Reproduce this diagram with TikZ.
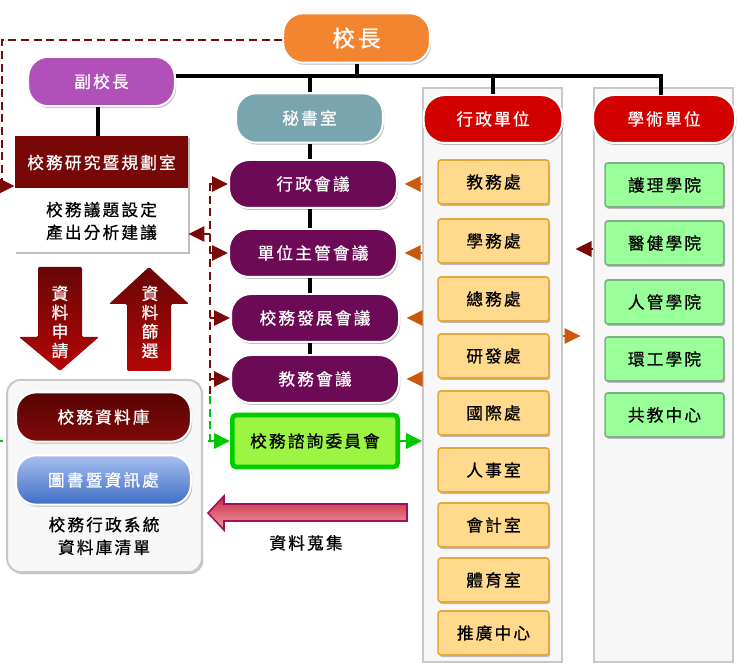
\documentclass[tikz,border=0pt]{standalone}
\usepackage{fontspec}
\setmainfont{Noto Sans CJK TC}[LetterSpace=13,FakeBold=0.7]
\usetikzlibrary{arrows.meta,positioning,shadows,calc}

\definecolor{bosscol}{HTML}{F38430}
\definecolor{vpcol}{HTML}{B050B8}
\definecolor{seccol}{HTML}{79A6AE}
\definecolor{unitred}{HTML}{D30000}
\definecolor{meetcol}{RGB}{108,10,86}
\definecolor{resred}{HTML}{780808}
\definecolor{feedred}{HTML}{7A0A0A}
\definecolor{feedorange}{HTML}{C8590E}
\definecolor{feedgreen}{HTML}{00C800}
\definecolor{admfill}{HTML}{FFD98C}
\definecolor{admline}{HTML}{E3A83E}
\definecolor{acafill}{HTML}{99FF99}
\definecolor{acaline}{HTML}{7FAF8A}
\definecolor{colfill}{HTML}{F7F7F7}
\definecolor{colline}{HTML}{C8C8C8}

\tikzset{
  softshadow/.style={drop shadow={shadow xshift=1pt,shadow yshift=-1.5pt,opacity=.25,fill=black}},
  txt/.style={font=\fontsize{12.5}{15}\selectfont},
  pill/.style={txt, rounded corners=15pt, draw=white, line width=1.5pt, text=white,
    minimum width=110pt, minimum height=37pt, softshadow},
  meeting/.style={pill, fill=meetcol, minimum width=126pt, minimum height=36pt},
  unithead/.style={pill, fill=unitred, minimum height=36pt, rounded corners=16pt},
  dbpill/.style={pill, minimum width=131pt, minimum height=37pt},
  admbox/.style={txt, draw=admline, fill=admfill, line width=1.2pt, rounded corners=2pt,
    minimum width=83pt, minimum height=33pt, softshadow},
  acabox/.style={admbox, draw=acaline, fill=acafill, minimum width=89pt},
  column/.style={draw=colline, fill=colfill, line width=1.5pt, inner sep=0pt},
  tree/.style={line width=3pt, black},
  feed/.style={line width=1.5pt, dash pattern=on 6pt off 3.5pt, feedred},
  tip/.style={-{Triangle[length=12pt,width=11.5pt]}},
  shortfeed/.style={line width=1.5pt, tip}
}

\begin{document}
\begin{tikzpicture}[x=0.75pt,y=-0.75pt]
  \useasboundingbox (0,0) rectangle (750,666);

  % unit columns
  \node[column, minimum width=104pt, minimum height=430.5pt] (admcol) at (492.5,375) {};
  \node[column, minimum width=104pt, minimum height=430.5pt] (acacol) at (663.5,375) {};

  % green feed from the left, runs behind the database group
  \coordinate (gleft) at (0,441);
  \coordinate (gbend) at (210,441);
  \draw[line width=1pt, feedgreen, dash pattern=on 2pt off 4pt] (gleft) -- (gbend);

  % database group
  \node[draw=colline, fill=colfill, line width=1.5pt, rounded corners=10pt,
        minimum width=146pt, minimum height=144pt, softshadow] (dbgroup) at (104.5,476) {};

  % top of the tree
  \node[pill, fill=bosscol, font=\fontsize{17}{20}\selectfont] (boss) at (356.5,38) {校長};
  \node[pill, fill=vpcol] (vp) at (101.5,81.5) {副校長};
  \node[pill, fill=seccol] (sec) at (309.5,118) {秘書室};
  \node[unithead, minimum width=104pt] (admhead) at (493,119) {行政單位};
  \node[unithead, minimum width=106.5pt] (acahead) at (664,119) {學術單位};

  % research office
  \node[fill=white, minimum width=130pt, minimum height=87pt, inner sep=0pt, softshadow] (res) at (101.5,194.5) {};
  \node[txt, fill=resred, text=white, minimum width=130pt, minimum height=39pt, anchor=north, inner sep=0pt] (reshead) at (res.north) {校務研究暨規劃室};
  \node[txt, align=center, font=\fontsize{12.5}{17}\selectfont] (restext) at (101.5,221) {校務議題設定\\產出分析建議};

  % meetings
  \node[meeting] (m1) at (313,184) {行政會議};
  \node[meeting] (m2) at (313,253) {單位主管會議};
  \node[meeting] (m3) at (315,318) {校務發展會議};
  \node[meeting] (m4) at (315,379) {教務會議};
  \node[txt, draw=green!80!black, fill={rgb,255:red,156;green,245;blue,66}, line width=3.5pt,
        rounded corners=3pt, minimum width=124pt, minimum height=39pt] (comm) at (315,441) {校務諮詢委員會};

  % administrative units
  \foreach \name/\y [count=\i] in {教務處/182,學務處/241,總務處/299,研發處/356,國際處/413,
                                   人事室/470,會計室/525,體育室/580,推廣中心/633}
    \node[admbox] (adm\i) at (493.5,\y) {\name};

  % academic units
  \foreach \name/\y [count=\i] in {護理學院/185,醫健學院/243,人管學院/302,環工學院/359,共教中心/415}
    \node[acabox] (aca\i) at (664.5,\y) {\name};

  % database and library
  \node[dbpill, top color={rgb,255:red,88;green,3;blue,3}, bottom color={rgb,255:red,128;green,10;blue,10}] (db) at (103.5,417) {校務資料庫};
  \node[dbpill, top color={rgb,255:red,165;green,192;blue,240}, bottom color={rgb,255:red,63;green,108;blue,196}] (lib) at (103.5,480) {圖書暨資訊處};
  \node[txt, align=center, font=\fontsize{12.5}{17}\selectfont] (dblist) at (104,536) {校務行政系統\\資料庫清單};

  % big arrows
  \shade[top color={rgb,255:red,104;green,6;blue,6}, bottom color={rgb,255:red,180;green,6;blue,6}, rounded corners=1pt]
    (38,267) -- (82,267) -- (82,337) -- (99,337) -- (60,371) -- (19,337) -- (38,337) -- cycle;
  \shade[top color={rgb,255:red,104;green,6;blue,6}, bottom color={rgb,255:red,180;green,6;blue,6}, rounded corners=1pt]
    (149,267) -- (189,304) -- (171,304) -- (171,371) -- (127,371) -- (127,304) -- (109,304) -- cycle;
  \node[txt, text=white, align=center, font=\fontsize{12.5}{14.3}\selectfont] (askdata) at (60,322) {資\\料\\申\\請};
  \node[txt, text=white, align=center, font=\fontsize{12.5}{14.3}\selectfont] (pickdata) at (150,322) {資\\料\\篩\\選};

  \draw[line width=1.2pt, draw={rgb,255:red,160;green,16;blue,90},
        top color={rgb,255:red,200;green,40;blue,60}, bottom color={rgb,255:red,240;green,160;blue,176}]
    (208,513) -- (224,496) -- (224,504) -- (407,504) -- (407,521) -- (224,521) -- (224,530) -- cycle;
  \node[txt] (collect) at (306,543) {資料蒐集};

  % tree lines
  \coordinate (bar) at (0,76);
  \draw[tree] (boss.south) -- (boss.south |- bar);
  \draw[tree] (vp.east |- bar) -- (661,76) -- (661,95);
  \draw[tree] (sec.north) -- (sec.north |- bar);
  \draw[tree] (admhead.north) -- (admhead.north |- bar);
  \draw[tree] (vp.south) ++(-4,0) -- (res.north -| 97.5,0);
  \draw[tree] (sec.south) -- (m1.north -| sec.south);
  \draw[tree] (m1.south -| sec.south) -- (m2.north -| sec.south);
  \draw[tree] (m2.south -| sec.south) -- (m3.north -| sec.south);
  \draw[tree] (m3.south -| sec.south) -- (m4.north -| sec.south);

  % dashed feed lines
  \coordinate (fcorner) at (2,40);
  \coordinate (fdown) at (2,186);
  \draw[feed] (boss.west |- fcorner) -- (fcorner) -- (fdown);
  \draw[shortfeed, feedred] (fdown) -- (res.west |- fdown);
  \coordinate (ftop) at (210,183);
  \coordinate (fmid) at (210,396);
  \draw[feed] (ftop) -- (fmid);
  \draw[feed, feedgreen] (fmid) -- (gbend);
  \foreach \m in {m1,m2,m3,m4}
    \draw[shortfeed, feedred] (ftop |- \m.west) -- (\m.west);
  \draw[shortfeed, feedred] (210,234) -- (res.east |- 0,234);
  \draw[shortfeed, feedgreen] (gbend) -- (comm.west);
  \draw[shortfeed, feedgreen] (comm.east) -- (admcol.west |- comm.east);

  % unit feeds
  \foreach \m in {m1,m2,m3,m4}
    \draw[shortfeed, feedorange, shorten >=5pt] (admcol.west |- \m.east) -- (\m.east);
  \draw[shortfeed, feedred, shorten >=9.5pt] (acacol.west |- 0,249) -- (admcol.east |- 0,249);
  \draw[shortfeed, feedorange, shorten >=9.5pt] (admcol.east |- 0,336) -- (acacol.west |- 0,336);
\end{tikzpicture}
\end{document}
